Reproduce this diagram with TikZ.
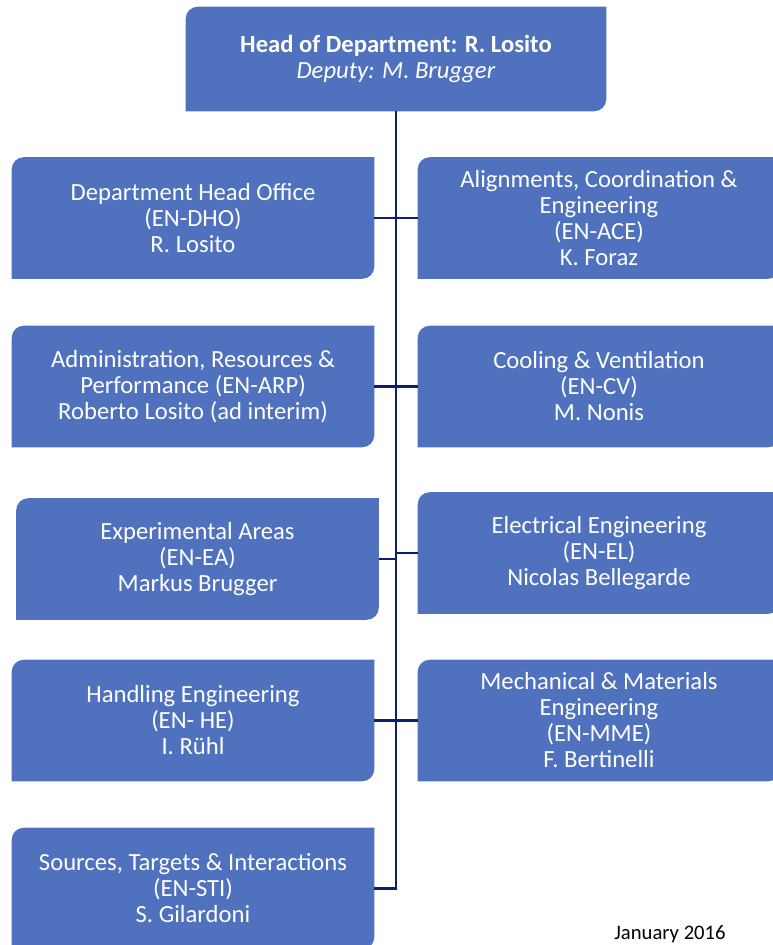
\documentclass[tikz,border=0pt]{standalone}
\usepackage{fontspec}
\setmainfont{Carlito}
\usetikzlibrary{calc}
\definecolor{unitblue}{RGB}{79,113,190}
\definecolor{linkblue}{RGB}{12,30,110}
\pgfdeclarelayer{bg}
\pgfsetlayers{bg,main}
\tikzset{
    unit/.style={text=white, align=center, inner sep=0pt, minimum width=271.5pt, minimum height=90.75pt, font=\fontsize{18.5}{19.5}\selectfont},
    headunit/.style={unit, minimum width=315pt, minimum height=78pt},
    link/.style={draw=linkblue, line width=2.2pt}
}

\begin{document}
\begin{tikzpicture}[x=0.75pt,y=-0.75pt]
    \clip (0,0) rectangle (773,945);

    % Department head
    \node[headunit] (head) at (396,59) {\textbf{Head of Department: R. Losito}\\\textit{Deputy: M. Brugger}};

    % Groups, left column
    \node[unit] (dho) at (193,218) {Department Head Office\\(EN-DHO)\\R. Losito};
    \node[unit] (arp) at (193,386.5) {Administration, Resources \&\\Performance (EN-ARP)\\Roberto Losito (ad interim)};
    \node[unit] (ea) at (197.5,559) {Experimental Areas\\(EN-EA)\\Markus Brugger};
    \node[unit] (he) at (193,720.5) {Handling Engineering\\(EN- HE)\\I. Rühl};
    \node[unit] (sti) at (193,888.5) {Sources, Targets \& Interactions\\(EN-STI)\\S. Gilardoni};

    % Groups, right column
    \node[unit] (ace) at (599,218) {Alignments, Coordination \&\\Engineering\\(EN-ACE)\\K. Foraz};
    \node[unit] (cv) at (599,386.5) {Cooling \& Ventilation\\(EN-CV)\\M. Nonis};
    \node[unit] (el) at (599,553) {Electrical Engineering\\(EN-EL)\\Nicolas Bellegarde};
    \node[unit] (mme) at (599,720.5) {Mechanical \& Materials\\Engineering\\(EN-MME)\\F. Bertinelli};

    \node[font=\fontsize{15.5}{18}\selectfont, anchor=base] (date) at (670,939) {January 2016};

    % Box shapes
    \begin{pgfonlayer}{bg}
    \foreach \n in {head,dho,arp,ea,he,sti,ace,cv,el,mme} {
        \fill[unitblue] (\n.south west) -- ([yshift=-9pt]\n.north west) arc[start angle=180,end angle=90,radius=9pt]
            -- (\n.north east) -- ([yshift=9pt]\n.south east) arc[start angle=0,end angle=-90,radius=9pt] -- cycle;
    }
    \end{pgfonlayer}

    % Connectors
    \draw[link] (head.south) |- (sti.east);
    \draw[link] (dho.east) -- (ace.west);
    \draw[link] (arp.east) -- (cv.west);
    \draw[link] (ea.east) -- (ea.east -| head.south);
    \draw[link] (el.west) -- (el.west -| head.south);
    \draw[link] (he.east) -- (mme.west);
\end{tikzpicture}
\end{document}
